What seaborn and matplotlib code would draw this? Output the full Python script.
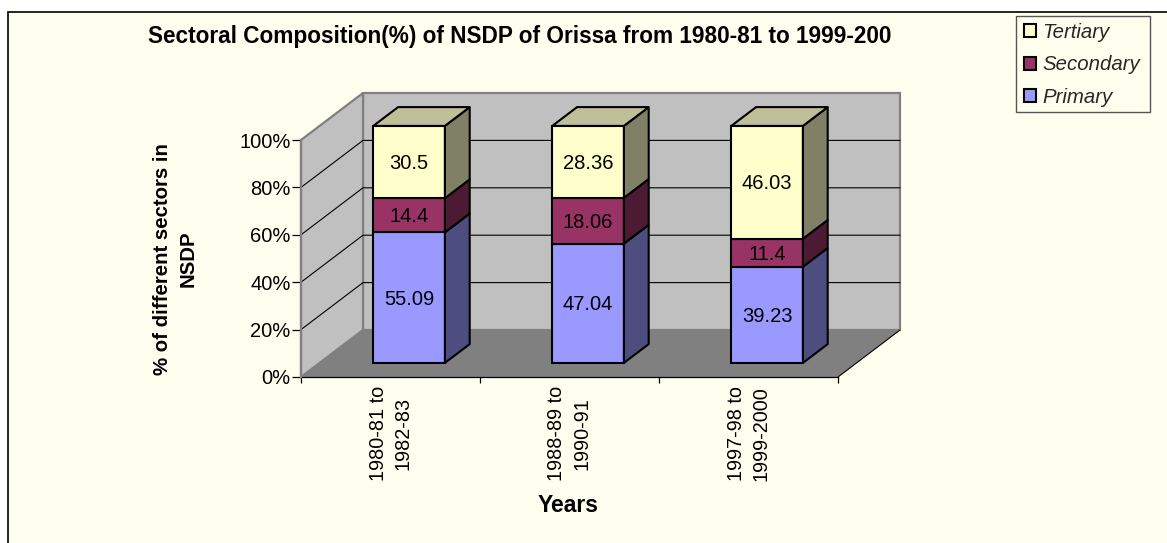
import matplotlib
matplotlib.use("Agg")
import matplotlib.pyplot as plt
import numpy as np
import pandas as pd
import seaborn as sns
from matplotlib.patches import Patch, Polygon, Rectangle

years = ["1980-81 to\n1982-83", "1988-89 to\n1990-91", "1997-98 to\n1999-2000"]
primary = [55.09, 47.04, 39.23]
secondary = [14.4, 18.06, 11.4]
tertiary = [30.5, 28.36, 46.03]
series_names = ["Primary", "Secondary", "Tertiary"]
front_colors = ["#9999FF", "#993366", "#FFFFCC"]
side_colors = ["#4D4D80", "#4D1A33", "#808066"]
top_color = "#BFBF99"
title = "Sectoral Composition(%) of NSDP of Orissa from 1980-81 to 1999-200"
ylabel = "% of different sectors in\nNSDP"
xlabel = "Years"

W, H = 1167, 543
sns.set_theme(style="white")
plt.rcParams["font.family"] = ["Liberation Sans", "DejaVu Sans"]
IVORY = "#FFFFF0"
FS = 14.5

fig = plt.figure(figsize=(W / 100, H / 100), dpi=100, facecolor="white")
fig.add_artist(Rectangle((8 / W, -0.01), 1.01 - 8 / W, 1.01 - 12 / H, transform=fig.transFigure,
                         facecolor=IVORY, edgecolor="black", linewidth=1.2, zorder=-5))

# pixel frame of the plot: front plane plus depth offset
ax = fig.add_axes([301 / W, (H - 377) / H, 599 / W, 283 / H])
ax.patch.set_visible(False)
cat_px, pct_px = 179.0, 2.37
ax.set_xlim(-0.5, -0.5 + 599 / cat_px)
ax.set_ylim(0, 283 / pct_px)
depth_x, depth_y = 62 / cat_px, 47 / pct_px
x0, x1 = -0.5, 2.5

# walls and floor
wall = "#C0C0C0"
edge = "#808080"
ax.add_patch(Polygon([(x0 + depth_x, depth_y), (x1 + depth_x, depth_y), (x1 + depth_x, 100 + depth_y),
                      (x0 + depth_x, 100 + depth_y)], facecolor=wall, edgecolor=edge, lw=1.6, zorder=1, clip_on=False))
ax.add_patch(Polygon([(x0, 0), (x0 + depth_x, depth_y), (x0 + depth_x, 100 + depth_y), (x0, 100)],
                     facecolor=wall, edgecolor=edge, lw=1.6, zorder=1, clip_on=False))
ax.add_patch(Polygon([(x0, 0), (x1, 0), (x1 + depth_x, depth_y), (x0 + depth_x, depth_y)],
                     facecolor=edge, edgecolor="none", zorder=1.5, clip_on=False))
ax.plot([x1, x1 + depth_x], [0, depth_y], color="black", lw=0.8, zorder=1.6, clip_on=False)
for p in [20, 40, 60, 80]:
    ax.plot([x0, x0 + depth_x, x1 + depth_x], [p, p + depth_y, p + depth_y], color="black", lw=0.8, zorder=1.2, clip_on=False)

# stacked bars: shares of each period's total
table = pd.DataFrame({"years": years, "Primary": primary, "Secondary": secondary, "Tertiary": tertiary})
values = table[series_names].to_numpy(dtype=float)
shares = values / values.sum(axis=1, keepdims=True) * 100
positions = np.arange(len(years)) + 0.3 * depth_x
lift = 0.3 * depth_y
bar_dx, bar_dy = 0.4 * depth_x, 0.4 * depth_y
bar_w = 0.4
bottoms = np.zeros(len(years)) + lift
for k, name in enumerate(series_names):
    frame = pd.DataFrame({"pos": positions, "share": shares[:, k]})
    sns.barplot(data=frame, x="pos", y="share", native_scale=True, width=bar_w, bottom=bottoms,
                color=front_colors[k], saturation=1, edgecolor="black", linewidth=1.5, ax=ax, zorder=3, errorbar=None)
    cont = ax.containers[-1]
    texts = ax.bar_label(cont, labels=[f"{v:g}" for v in values[:, k]], label_type="center",
                         fontsize=FS, color="black", zorder=6)
    for t in texts:
        t.xyann = (0, -1.0)
    for i, pos in enumerate(positions):
        r = pos + bar_w / 2
        b, t = bottoms[i], bottoms[i] + shares[i, k]
        ax.add_patch(Polygon([(r, b), (r + bar_dx, b + bar_dy), (r + bar_dx, t + bar_dy), (r, t)],
                             facecolor=side_colors[k], edgecolor="black", lw=1.5, zorder=3, joinstyle="round"))
    bottoms = bottoms + shares[:, k]
for i, pos in enumerate(positions):
    l, r, t = pos - bar_w / 2, pos + bar_w / 2, bottoms[i]
    ax.add_patch(Polygon([(l, t), (l + bar_dx, t + bar_dy), (r + bar_dx, t + bar_dy), (r, t)],
                         facecolor=top_color, edgecolor="black", lw=1.5, zorder=3))

# axes
ax.set_xlim(-0.5, -0.5 + 599 / cat_px)
ax.set_ylim(0, 283 / pct_px)
for s in ["top", "right"]:
    ax.spines[s].set_visible(False)
ax.spines["left"].set_bounds(0, 100)
ax.spines["left"].set_color(edge)
ax.spines["left"].set_linewidth(1.6)
ax.spines["bottom"].set_bounds(x0, x1)
ax.spines["bottom"].set_color("black")
ax.spines["bottom"].set_linewidth(0.9)
ax.spines["bottom"].set_zorder(2)
ax.set_yticks([0, 20, 40, 60, 80, 100])
ax.set_yticklabels([f"{v}%" for v in [0, 20, 40, 60, 80, 100]], fontsize=FS, color="black")
ax.set_xticks([0, 1, 2])
ax.set_xticklabels(years, rotation=90, fontsize=14.3, color="black", ha="center", va="top", linespacing=1.4,
                   multialignment="center")
ax.set_xticks([-0.5, 0.5, 1.5, 2.5], minor=True)
ax.tick_params(axis="y", which="major", left=True, length=6.5, width=0.9, color="black", pad=1)
ax.tick_params(axis="x", which="major", bottom=False, length=0, pad=6.5)
ax.tick_params(axis="x", which="minor", bottom=True, length=4.5, width=0.9, color="black")
ax.set_xlabel("")
ax.set_ylabel("")

fig.text(520 / W, 1 - 37 / H, title, fontsize=16.3, fontweight="bold", ha="center", va="center", color="black")
fig.text(175.5 / W, 1 - 259 / H, ylabel, fontsize=14.7, fontweight="bold", ha="center", va="center",
         rotation=90, color="black", linespacing=1.45, multialignment="center")
fig.text(568.5 / W, 1 - 506 / H, xlabel, fontsize=16.5, fontweight="bold", ha="center", va="center", color="black")

# legend frame and entries
fig.add_artist(Rectangle((1016 / W, 1 - 112 / H), 134 / W, 96 / H, transform=fig.transFigure,
                         facecolor=IVORY, edgecolor="#555555", linewidth=1.0, zorder=-1))
handles = [Patch(facecolor=front_colors[k], edgecolor="black", linewidth=1.5, label=series_names[k]) for k in [2, 1, 0]]
leg = fig.legend(handles=handles, loc="upper left", bbox_to_anchor=(1024 / W, 1 - 23 / H),
                 bbox_transform=fig.transFigure, prop={"size": 14.7, "style": "italic"},
                 handlelength=0.6, handleheight=0.6, handletextpad=0.28, labelspacing=0.65,
                 borderaxespad=0, borderpad=0, frameon=False)

fig.savefig("out.png", dpi=100, facecolor="white")
